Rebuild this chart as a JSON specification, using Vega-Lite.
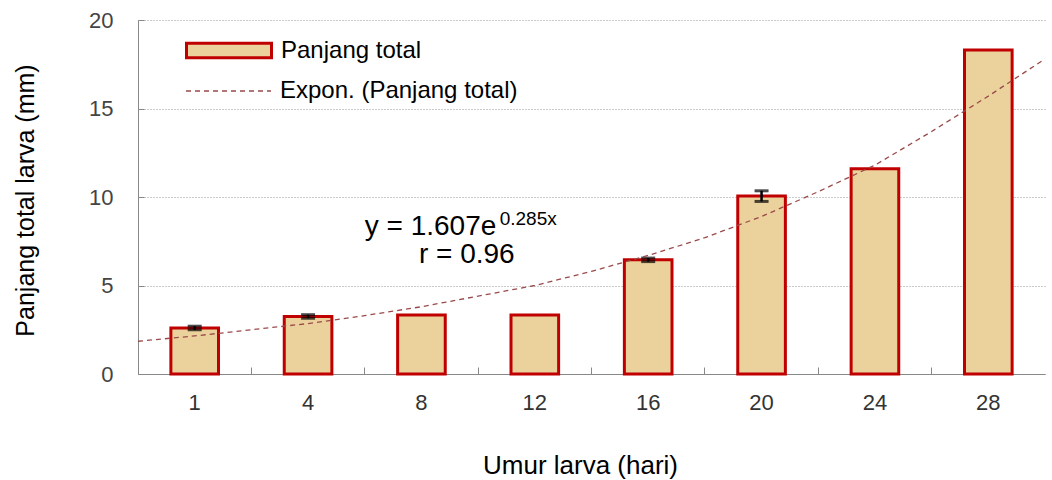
{
  "$schema": "https://vega.github.io/schema/vega-lite/v6.json",
  "width": 907,
  "height": 354,
  "autosize": {"type": "none"},
  "padding": {"left": 138, "top": 20, "right": 7, "bottom": 106},
  "config": {
    "font": "Liberation Sans",
    "view": {"stroke": null},
    "axis": {"labelFont": "Liberation Sans", "titleFont": "Liberation Sans", "titleFontWeight": "normal"}
  },
  "datasets": {
    "bars": [
      {"umur": 1, "panjang": 2.6},
      {"umur": 4, "panjang": 3.25},
      {"umur": 8, "panjang": 3.33},
      {"umur": 12, "panjang": 3.33},
      {"umur": 16, "panjang": 6.45},
      {"umur": 20, "panjang": 10.05},
      {"umur": 24, "panjang": 11.6},
      {"umur": 28, "panjang": 18.3}
    ],
    "errors": [
      {"umur": 1, "lo": 2.5, "hi": 2.7},
      {"umur": 4, "lo": 3.15, "hi": 3.35},
      {"umur": 16, "lo": 6.35, "hi": 6.55},
      {"umur": 20, "lo": 9.75, "hi": 10.35}
    ],
    "trend": [
      {"idx": 0.5, "y": 1.85},
      {"idx": 1, "y": 2.15},
      {"idx": 1.5, "y": 2.5},
      {"idx": 2, "y": 2.85},
      {"idx": 2.5, "y": 3.3},
      {"idx": 3, "y": 3.8},
      {"idx": 3.5, "y": 4.4},
      {"idx": 4, "y": 5.0},
      {"idx": 4.5, "y": 5.8},
      {"idx": 5, "y": 6.7},
      {"idx": 5.5, "y": 7.7},
      {"idx": 6, "y": 8.9},
      {"idx": 6.5, "y": 10.3},
      {"idx": 7, "y": 11.8},
      {"idx": 7.5, "y": 13.7},
      {"idx": 8, "y": 15.7},
      {"idx": 8.5, "y": 17.8}
    ],
    "eq": [
      {"idx": 2.5, "y": 8.3, "label": "y = 1.607e"}
    ],
    "sup": [
      {"idx": 3.69, "y": 8.75, "label": "0.285x"}
    ],
    "rr": [
      {"idx": 3.4, "y": 6.75, "label": "r = 0.96"}
    ]
  },
  "resolve": {"scale": {"x": "independent"}, "axis": {"x": "independent"}},
  "layer": [
    {
      "data": {"name": "bars"},
      "mark": {"type": "bar", "width": {"band": 0.42}, "stroke": "#c00000", "strokeWidth": 3},
      "encoding": {
        "x": {
          "field": "umur", "type": "ordinal",
          "scale": {"paddingInner": 0, "paddingOuter": 0},
          "axis": {
            "title": "Umur larva (hari)",
            "titleFontSize": 26,
            "titleColor": "#000",
            "titleX": 442,
            "titleY": 91,
            "titleBaseline": "middle",
            "titleAlign": "center",
            "labelAngle": 0,
            "labelFontSize": 22,
            "labelColor": "#333",
            "labelPadding": 25,
            "bandPosition": 0,
            "tickSize": -7,
            "tickColor": "#888",
            "domainColor": "#888",
            "grid": false
          }
        },
        "y": {
          "field": "panjang", "type": "quantitative",
          "title": "Panjang total larva (mm)",
          "scale": {"domain": [0, 20], "nice": false},
          "axis": {
            "title": "Panjang total larva (mm)",
            "titleFontSize": 25,
            "titleColor": "#000",
            "titleAngle": -90,
            "titleX": -113,
            "titleY": 180,
            "titleBaseline": "middle",
            "titleAlign": "center",
            "values": [0, 5, 10, 15, 20],
            "labelFontSize": 22,
            "labelColor": "#444",
            "labelPadding": 31,
            "tickSize": -6,
            "tickColor": "#888",
            "domainColor": "#888",
            "gridColor": "#999",
            "gridDash": [1, 2],
            "gridWidth": 1
          }
        },
        "fill": {
          "datum": "Panjang total",
          "type": "nominal",
          "scale": {"range": ["#ebd29c"]},
          "legend": {
            "orient": "none",
            "legendX": 47,
            "legendY": -13.5,
            "title": null,
            "padding": 0,
            "symbolType": "M-1,-0.17H1V0.17H-1Z",
            "symbolSize": 7225,
            "symbolStrokeColor": "#c00000",
            "symbolStrokeWidth": 3,
            "labelFontSize": 24,
            "labelColor": "#000",
            "labelOffset": 8,
            "labelLimit": 500,
            "labelFont": "Liberation Sans",
            "encode": {"symbols": {"update": {"stroke": {"value": "#c00000"}, "strokeWidth": {"value": 3}, "fill": {"value": "#ebd29c"}, "opacity": {"value": 1}}}}
          }
        }
      }
    },
    {
      "data": {"name": "errors"},
      "mark": {"type": "errorbar", "ticks": {"size": 14, "thickness": 3, "color": "#000"}, "rule": {"strokeWidth": 2.5, "color": "#000"}, "color": "#000"},
      "encoding": {
        "x": {"field": "umur", "type": "ordinal", "scale": {"domain": [1, 4, 8, 12, 16, 20, 24, 28], "paddingInner": 0, "paddingOuter": 0}, "axis": null},
        "y": {"field": "lo", "type": "quantitative", "title": "Panjang total larva (mm)"},
        "y2": {"field": "hi"}
      }
    },
    {
      "data": {"name": "trend"},
      "mark": {"type": "line", "color": "#9a4a4a", "strokeWidth": 1.3},
      "encoding": {
        "x": {"field": "idx", "type": "quantitative", "scale": {"domain": [0.5, 8.5], "nice": false, "zero": false}, "axis": null},
        "y": {"field": "y", "type": "quantitative", "title": "Panjang total larva (mm)"},
        "strokeDash": {
          "datum": "Expon. (Panjang total)",
          "type": "nominal",
          "scale": {"range": [[5, 4]]},
          "legend": {
            "orient": "none",
            "legendX": 47,
            "legendY": 27.5,
            "title": null,
            "padding": 0,
            "symbolType": "stroke",
            "symbolSize": 7225,
            "symbolStrokeColor": "#9a4a4a",
            "symbolStrokeWidth": 1.3,
            "labelFontSize": 24,
            "labelColor": "#000",
            "labelOffset": 8,
            "labelLimit": 500,
            "labelFont": "Liberation Sans"
          }
        }
      }
    },
    {
      "data": {"name": "eq"},
      "mark": {"type": "text", "align": "left", "baseline": "middle", "fontSize": 28, "font": "Liberation Sans", "color": "#000"},
      "encoding": {
        "x": {"field": "idx", "type": "quantitative", "scale": {"domain": [0.5, 8.5], "nice": false, "zero": false}, "axis": null},
        "y": {"field": "y", "type": "quantitative", "title": "Panjang total larva (mm)"},
        "text": {"field": "label"}
      }
    },
    {
      "data": {"name": "sup"},
      "mark": {"type": "text", "align": "left", "baseline": "middle", "fontSize": 19, "font": "Liberation Sans", "color": "#000"},
      "encoding": {
        "x": {"field": "idx", "type": "quantitative", "scale": {"domain": [0.5, 8.5], "nice": false, "zero": false}, "axis": null},
        "y": {"field": "y", "type": "quantitative", "title": "Panjang total larva (mm)"},
        "text": {"field": "label"}
      }
    },
    {
      "data": {"name": "rr"},
      "mark": {"type": "text", "align": "center", "baseline": "middle", "fontSize": 28, "font": "Liberation Sans", "color": "#000"},
      "encoding": {
        "x": {"field": "idx", "type": "quantitative", "scale": {"domain": [0.5, 8.5], "nice": false, "zero": false}, "axis": null},
        "y": {"field": "y", "type": "quantitative", "title": "Panjang total larva (mm)"},
        "text": {"field": "label"}
      }
    }
  ]
}
